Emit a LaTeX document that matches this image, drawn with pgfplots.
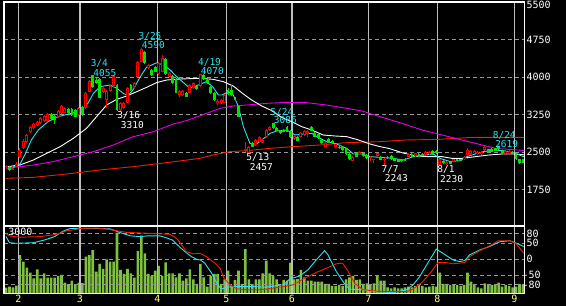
\documentclass[border=0pt]{standalone}
\usepackage{pgfplots}
\pgfplotsset{compat=1.18}
\usepackage{pgfplotstable}
\usepackage{fontspec}
\setmainfont{DejaVu Sans Mono}
\newfontfamily\mono{DejaVu Sans Mono}
\definecolor{candred}{RGB}{255,0,0}
\definecolor{candgreen}{RGB}{0,230,0}
\definecolor{macyan}{RGB}{40,230,240}
\definecolor{mamag}{RGB}{230,0,230}
\definecolor{mared}{RGB}{240,30,0}
\definecolor{volgreen}{RGB}{128,192,64}
\definecolor{gridgray}{RGB}{150,150,150}
\definecolor{vgray}{RGB}{190,190,190}
\definecolor{monthyellow}{RGB}{255,255,128}

\pgfplotstableread{
i o h l c
0 2200 2240 2180 2215
2 2150 2200 2140 2190
3 2210 2300 2200 2270
4 2413 2580 2380 2546
5 2590 2760 2570 2733
6 2700 2870 2690 2846
7 2900 3020 2880 3000
8 2980 3080 2960 3060
9 3040 3120 3020 3100
10 3080 3200 3060 3180
11 3120 3240 3100 3220
12 3130 3280 3110 3260
15 3213 3350 3190 3333
16 3280 3446 3260 3426
17 3293 3400 3280 3380
21 3246 3400 3230 3380
23 3380 3700 3360 3680
24 3713 3946 3700 3926
28 3713 3800 3690 3780
29 3546 3750 3380 3733
30 3733 3850 3710 3826
31 3826 4040 3800 4026
33 3346 3500 3310 3480
34 3380 3510 3360 3490
35 3493 3800 3480 3780
37 3800 3900 3790 3880
38 4013 4330 4000 4313
39 4313 4590 4300 4560
41 4180 4270 4160 4246
44 4066 4300 4050 4280
45 4113 4446 4100 4380
47 4013 4100 4000 4080
50 3646 3740 3600 3726
51 3646 3750 3630 3733
53 3693 3860 3680 3846
54 3780 3900 3770 3880
56 3826 4070 3810 4066
61 3480 3560 3446 3530
62 3480 3560 3470 3546
63 3493 3660 3480 3646
69 2540 2713 2510 2570
70 2493 2630 2457 2613
72 2646 2760 2630 2746
73 2713 2830 2700 2813
74 2693 2760 2680 2746
75 2800 2960 2790 2946
76 2946 3020 2930 3000
83 2760 2840 2740 2826
85 2813 2900 2800 2893
86 2846 2940 2830 2926
87 2866 2946 2810 2933
92 2613 2700 2600 2693
95 2600 2670 2590 2660
100 2333 2420 2320 2413
102 2466 2530 2450 2513
105 2380 2420 2330 2393
106 2340 2370 2290 2353
107 2426 2490 2410 2480
109 2340 2380 2243 2350
116 2413 2480 2400 2466
118 2426 2490 2410 2480
121 2446 2530 2430 2513
122 2466 2530 2450 2513
125 2246 2370 2230 2360
127 2266 2320 2250 2313
129 2313 2370 2300 2360
132 2360 2430 2350 2413
133 2446 2590 2430 2546
134 2466 2550 2450 2533
135 2480 2550 2470 2533
136 2466 2530 2450 2513
137 2466 2530 2450 2513
138 2546 2630 2530 2613
144 2480 2546 2470 2533
145 2480 2546 2470 2533
}\uptab

\pgfplotstableread{
i o h l c
1 2213 2225 2125 2140
13 3259 3280 3140 3160
14 3230 3250 3060 3146
18 3360 3380 3260 3280
19 3360 3380 3230 3250
20 3346 3360 3200 3213
22 3400 3420 3230 3246
25 4046 4055 3790 3800
26 3946 3990 3860 3880
27 3966 3980 3580 3593
32 3846 3860 3330 3346
36 3846 3870 3730 3746
40 4513 4530 4260 4280
42 4146 4160 4030 4046
43 4213 4230 4100 4113
46 4360 4380 4050 4066
48 4026 4040 3860 3880
49 3966 3980 3680 3693
52 3693 3710 3600 3613
55 3826 3840 3750 3760
57 4046 4060 3950 3960
58 3946 3960 3870 3880
59 3800 3820 3670 3680
60 3693 3700 3530 3546
64 3746 3790 3650 3660
65 3746 3850 3630 3646
66 3590 3600 3530 3546
67 3426 3440 3200 3213
71 2680 2700 2600 2613
77 3080 3086 2970 2980
78 2980 3000 2920 2933
79 2933 2950 2870 2880
80 2946 2960 2900 2913
81 3013 3030 2900 2913
82 2926 2940 2790 2800
84 2813 2830 2720 2733
88 3000 3020 2920 2933
89 2893 2910 2800 2813
90 2866 2880 2770 2780
91 2746 2760 2670 2680
93 2760 2780 2680 2693
94 2733 2750 2670 2680
96 2613 2630 2570 2580
97 2613 2630 2530 2546
98 2580 2590 2450 2466
99 2466 2480 2350 2360
101 2480 2500 2400 2413
103 2493 2510 2410 2426
104 2446 2460 2370 2380
108 2413 2430 2340 2346
110 2413 2430 2370 2380
111 2426 2440 2350 2360
112 2380 2390 2320 2333
113 2360 2370 2300 2313
114 2360 2370 2310 2320
115 2373 2380 2320 2333
117 2466 2480 2400 2413
119 2466 2480 2400 2413
120 2466 2476 2416 2426
123 2533 2546 2450 2466
124 2533 2546 2470 2480
126 2333 2340 2270 2280
128 2313 2320 2256 2266
130 2360 2370 2320 2333
131 2360 2370 2320 2333
139 2560 2570 2500 2513
140 2560 2580 2500 2513
141 2580 2590 2520 2533
142 2619 2619 2550 2560
143 2533 2546 2470 2480
146 2513 2526 2456 2466
147 2466 2480 2350 2360
148 2360 2370 2270 2280
149 2360 2370 2280 2293
}\dntab

\pgfplotstableread{
i v
0 277
1 326
2 294
3 375
4 1878
5 1551
6 1257
7 1012
8 735
9 1176
10 735
11 980
12 767
13 767
14 767
15 849
16 898
17 522
18 441
19 620
20 408
21 522
22 500
23 1796
24 1877
25 2122
26 1061
27 1437
28 1192
29 1666
30 1551
31 1551
32 2972
33 1143
34 947
35 1192
36 980
37 767
38 2074
39 2825
40 1959
41 947
42 849
43 1110
44 1339
45 849
46 1518
47 980
48 980
49 784
50 980
51 620
52 735
53 1176
54 686
55 457
56 1437
57 784
58 326
59 849
60 947
61 947
62 457
63 686
64 1110
65 359
66 653
67 1110
68 457
69 2171
70 686
71 457
72 686
73 686
74 980
75 1600
76 980
77 849
78 686
79 359
80 653
81 620
82 1502
83 686
84 700
85 1143
86 784
87 620
88 620
89 571
90 571
91 571
92 457
93 457
94 359
95 359
96 408
97 359
98 686
99 784
100 849
101 653
102 686
103 457
104 490
105 408
106 490
107 849
108 620
109 620
110 294
111 245
112 294
113 245
114 245
115 294
116 330
117 294
118 359
119 408
120 359
121 294
122 330
123 359
124 330
125 1012
126 457
127 457
128 408
129 408
130 408
131 359
132 408
133 1012
134 571
135 457
136 294
137 245
138 490
139 408
140 408
141 408
142 520
143 330
144 408
145 359
146 294
147 330
148 457
149 408
}\voltab

\pgfplotsset{
  panel/.style={at={(4pt,#1)}, anchor=south west, scale only axis, width=520.3pt,
    xmin=-0.58, xmax=149.37, major tick length=0pt,
    axis line style={white, line width=1.2pt},
    xtick={3.54,21.3,43.6,63.5,82.4,104.4,124.3,146.5},
    xmajorgrids, x grid style={vgray, line width=1.4pt},
    ymajorgrids, y grid style={gridgray, dash pattern=on 4pt off 3pt, line width=0.9pt},
    yticklabel pos=right,
    yticklabel style={text=white, font=\mono\fontsize{10}{10}\selectfont, anchor=west, inner sep=0pt, text height=7.3pt, text depth=0pt, xshift=2pt}}
}
\tikzset{lab/.style={font=\mono\fontsize{9.5}{9.5}\selectfont, inner sep=0pt, text height=6.9pt, text depth=0pt, anchor=center}}

\begin{document}
\begin{tikzpicture}
\path[use as bounding box, fill=black] (0,0) rectangle (566pt,306pt);

% volume
\begin{axis}[at={(4pt,12.7pt)}, anchor=south west, scale only axis, width=520.3pt, height=67.3pt,
  xmin=-0.58, xmax=149.37, ymin=0, ymax=3300, hide axis, ybar, bar width=2.6pt]
\addplot[fill=volgreen, draw=none] table[x=i, y=v] {\voltab};
\end{axis}

% oscillator panel
\begin{axis}[panel=12.7pt, height=67.3pt, ymin=-107, ymax=103,
  ytick={-80,-50,50,80}, yticklabels={\kern-4pt-80,\kern-4pt-50,50,80},
  extra y ticks={0}, extra y tick labels={0},
  extra y tick style={grid style={white, dash pattern=on 4pt off 3pt, line width=0.9pt}},
  xticklabels={2,3,4,5,6,7,8,9},
  xticklabel style={text=monthyellow, font=\mono\fontsize{10}{10}\selectfont, inner sep=0pt, anchor=north, yshift=-2pt}]
\addplot[macyan, line width=0.9pt] coordinates {(0,70)(1,51)(3,49)(8,51)(11,59)(14,70)(16.5,87)(18.4,95)(21.3,96)(25,96)(30,94)(33,82)(36,72)(38.6,70)(40.5,72)(44.4,72)(46,67)(48,59)(50,38)(51.6,23)(53.5,7)(55,-1)(56,-3)(57.3,-13)(59.3,-45)(60.7,-74)(62,-94)(63.6,-88)(65.5,-86)(71.3,-86)(75,-88)(80,-80)(81.7,-63)(84.6,-53)(87,-34)(89.4,-3)(91.8,26)(92.8,13)(95.2,-39)(97.6,-78)(99,-94)(102.9,-96)(106.7,-102)(111.5,-105)(115.4,-96)(117.3,-81)(119.2,-55)(122.1,-3)(124,31)(125.9,18)(128.8,-3)(130.7,-8)(132.2,-5)(133.6,13)(136.5,28)(139.4,39)(142.3,54)(145.2,57)(147.1,49)(149.2,39)};
\addplot[mared, line width=0.9pt] coordinates {(0,80)(1,72)(4,68)(10,70)(15,78)(17.5,88)(22.3,96)(27,96)(31,90)(34.8,83)(41.5,80)(47.3,77)(49.2,64)(50.6,44)(52,23)(54,16)(55.9,18)(57.8,7)(60.2,-13)(61.7,-29)(62.8,-60)(64.6,-81)(66.5,-93)(69.4,-96)(73.2,-96)(75.1,-94)(80,-86)(82.7,-81)(85.6,-63)(89.4,-42)(92.3,-29)(95.2,-15)(97,-13)(98.6,-39)(100.5,-76)(102.9,-96)(108.6,-102)(115.4,-102)(117.3,-94)(120.2,-70)(122.6,-39)(124.5,-11)(126.9,-11)(128.8,-15)(132.2,-11)(133.6,7)(136.5,26)(139.4,41)(141.8,57)(145.2,57)(147.1,47)(149.2,18)};
\end{axis}

% price panel
\begin{axis}[panel=80pt, height=224pt, ymin=1026, ymax=5506,
  ytick={1750,2500,3250,4000,4750,5500},
  yticklabels={1750,2500,3250,4000,4750,\raisebox{-2.3pt}{5500}},
  xticklabels={}]
% moving averages
\addplot[mared, line width=0.9pt] coordinates {(0,1979)(7.9,1999)(17.5,2066)(27,2146)(36.7,2213)(46.3,2293)(55.9,2379)(59.7,2446)(64.5,2513)(69.4,2533)(76.1,2579)(82.8,2613)(90.5,2646)(98.2,2693)(107.8,2713)(115,2746)(124.8,2759)(134.4,2799)(149.7,2799)};
\addplot[mamag, line width=0.9pt] coordinates {(0,2179)(7.9,2246)(13.6,2313)(19.4,2413)(25.2,2513)(30.9,2646)(36.7,2813)(42.5,2913)(48.2,3066)(52,3133)(55.9,3230)(61.7,3379)(65.5,3426)(69.4,3446)(75.1,3479)(80.9,3499)(86.6,3493)(92.4,3446)(98.2,3379)(102.6,3326)(107.8,3213)(114.1,3079)(119.9,2946)(125.7,2846)(131.4,2746)(137.2,2646)(141.1,2579)(144.9,2559)(149.7,2533)};
\addplot[white, line width=0.9pt] coordinates {(0.5,2213)(4,2246)(7.9,2346)(11.7,2479)(15.6,2613)(19.4,2779)(23.2,2979)(26.1,3213)(29,3446)(31.9,3559)(34.8,3626)(37.7,3713)(40.5,3799)(43.4,3893)(46.3,3946)(50.1,3966)(55.9,3979)(59.7,3959)(62.6,3913)(65.5,3826)(68.4,3666)(70.8,3546)(73.7,3426)(76.6,3333)(79.4,3199)(82.3,3113)(85.2,3013)(88.1,2946)(91.4,2846)(94.8,2826)(98.2,2813)(101,2759)(104.9,2666)(107.8,2613)(110.3,2579)(114.1,2493)(118,2426)(121.8,2413)(125.7,2413)(128.5,2379)(131.4,2379)(135.3,2413)(139.1,2446)(143,2466)(146.8,2466)(149.7,2446)};
\addplot[macyan, line width=0.9pt] coordinates {(2,2200)(4,2260)(5.4,2446)(7.3,2746)(9.3,2946)(12.1,3113)(15,3213)(18.8,3279)(21.7,3330)(23.6,3480)(25.2,3680)(27.1,3813)(30,3846)(31.9,3780)(33.8,3680)(35.2,3630)(36.7,3760)(38.6,4000)(40.5,4200)(43.4,4290)(45.4,4246)(47.3,4146)(49.2,4013)(50.1,3959)(53,3779)(55.4,3846)(57.8,3913)(59.7,3799)(61.2,3646)(62.2,3646)(64.1,3713)(65.5,3646)(67,3413)(68.4,3013)(70.3,2679)(71.8,2646)(73.7,2746)(76.1,2879)(78,2926)(80.9,2946)(83.3,2846)(85.7,2866)(88.1,2879)(90.5,2779)(92.4,2713)(95.3,2666)(98.2,2579)(100.1,2466)(102.5,2466)(104.9,2413)(107.8,2399)(111.6,2379)(114.5,2346)(117.4,2413)(120.3,2446)(123.1,2466)(125.1,2379)(128,2313)(130.8,2333)(132.8,2413)(135.2,2466)(137.6,2513)(140.4,2546)(143.3,2533)(146.3,2493)(149.2,2413)};
% candles: wicks
\addplot[candred, line width=1pt, mark=none, -, forget plot, quiver={u=0, v=\thisrow{h}-\thisrow{l}}] table[x=i, y=l] {\uptab};
\addplot[candgreen, line width=1pt, mark=none, -, forget plot, quiver={u=0, v=\thisrow{h}-\thisrow{l}}] table[x=i, y=l] {\dntab};
% bodies
\addplot[candred, line width=3pt, mark=none, -, forget plot, quiver={u=0, v={max(\thisrow{c}-\thisrow{o},24)}}] table[x=i, y expr={min(\thisrow{o},\thisrow{c})}] {\uptab};
\addplot[black, line width=1pt, mark=none, -, forget plot, quiver={u=0, v={max(\thisrow{c}-\thisrow{o}-40,0.01)}}] table[x=i, y expr={min(\thisrow{o},\thisrow{c})+20}] {\uptab};
\addplot[candgreen, line width=2.8pt, mark=none, -, forget plot, quiver={u=0, v={max(\thisrow{o}-\thisrow{c},24)}}] table[x=i, y expr={min(\thisrow{o},\thisrow{c})}] {\dntab};
% annotations
\node[lab, text=macyan] at (axis cs:26.9,4286) {3/4};
\node[lab, text=macyan] at (axis cs:28.5,4092) {4055};
\node[lab, text=macyan] at (axis cs:41.5,4832) {3/25};
\node[lab, text=macyan] at (axis cs:42.45,4636) {4590};
\node[lab, text=white] at (axis cs:35.36,3240) {3/16};
\node[lab, text=white] at (axis cs:36.4,3052) {3310};
\node[lab, text=macyan] at (axis cs:58.65,4306) {4/19};
\node[lab, text=macyan] at (axis cs:59.45,4120) {4070};
\node[lab, text=white] at (axis cs:72.6,2396) {5/13};
\node[lab, text=white] at (axis cs:73.6,2206) {2457};
\node[lab, text=macyan] at (axis cs:79.5,3312) {5/24};
\node[lab, text=macyan] at (axis cs:80.5,3136) {3086};
\node[lab, text=white] at (axis cs:110.7,2170) {7/7};
\node[lab, text=white] at (axis cs:112.5,1986) {2243};
\node[lab, text=white] at (axis cs:126.8,2170) {8/1};
\node[lab, text=white] at (axis cs:128.4,1970) {2230};
\node[lab, text=macyan] at (axis cs:143.6,2852) {8/24};
\node[lab, text=macyan] at (axis cs:144.3,2670) {2619};
\end{axis}

\node[font=\mono\fontsize{10}{10}\selectfont, text=white, inner sep=0pt, text height=7.3pt, text depth=0pt] at (20.3pt,74.3pt) {3000};
\end{tikzpicture}
\end{document}
